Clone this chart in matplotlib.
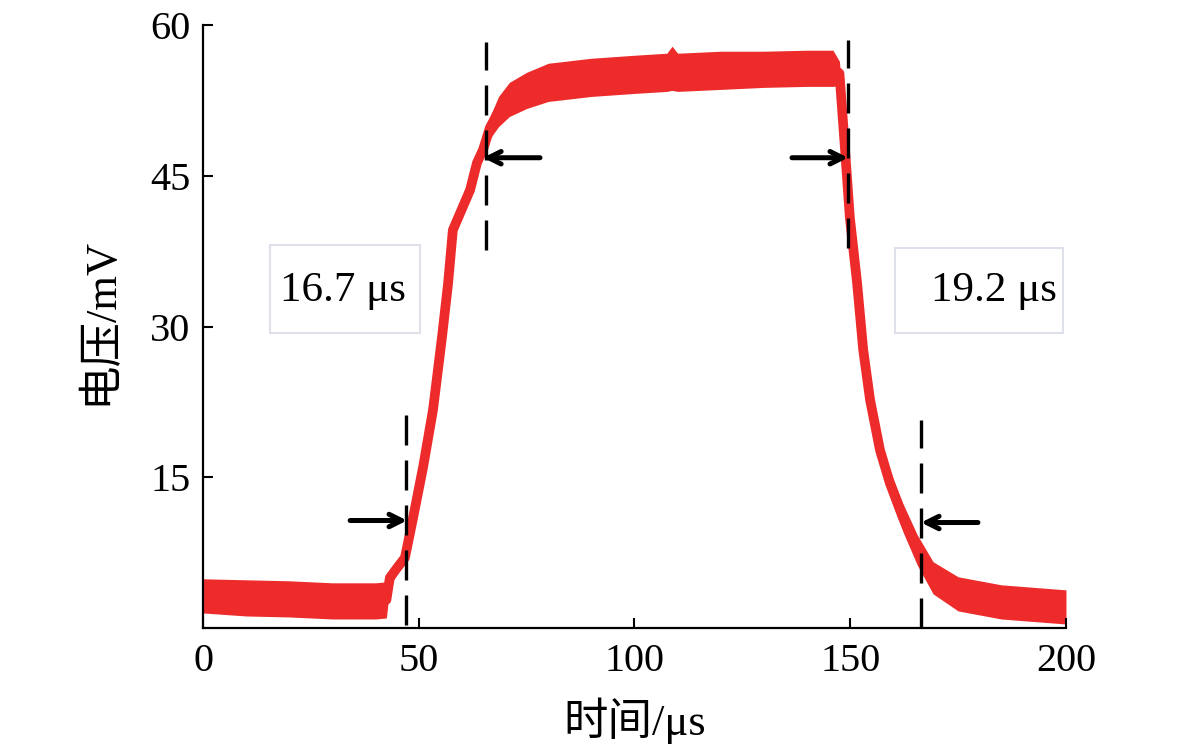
import numpy as np
import matplotlib.pyplot as plt
from matplotlib.patches import Rectangle

plt.rcParams['font.family'] = ['Liberation Serif', 'Noto Sans CJK SC']

# signal centre line and half-width of the noise band
t_us = [0, 10, 20, 30, 40, 42.5, 43.3, 45, 46.8, 48.7, 51, 53.3, 55.4, 56.8, 57.9,
        59.6, 61.9, 63.5, 64.9, 66.5, 68.5, 71, 75, 80, 90, 100, 107.5, 108.7, 110,
        120, 130, 140, 146, 147.5, 148.8, 149.9, 151.6, 153.0, 154.6, 156.9, 159.2,
        162.2, 165.5, 169.2, 175, 185, 200]
v_mid = [3.2, 3.0, 2.9, 2.7, 2.7, 2.8, 5.0, 6.0, 7.0, 11.0, 16.0, 21.7, 29.0, 34.3, 39.6,
         41.3, 43.6, 46.3, 47.6, 49.8, 51.4, 52.6, 53.5, 54.3, 54.8, 55.1, 55.3, 55.7, 55.3,
         55.5, 55.6, 55.7, 55.7, 55.2, 47.6, 40.9, 34.3, 27.7, 22.7, 17.7, 14.4,
         11.0, 7.8, 5.0, 3.4, 2.6, 2.1]
v_half = [1.7, 1.8, 1.8, 1.8, 1.8, 1.8, 0.8, 0.6, 0.5, 0.5, 0.5, 0.5, 0.5, 0.5, 0.5,
          0.5, 0.5, 0.5, 0.6, 1.1, 1.5, 1.7, 1.8, 1.9, 1.9, 1.9, 1.9, 2.2, 1.9,
          1.9, 1.8, 1.8, 1.8, 1.2, 0.6, 0.6, 0.6, 0.7, 0.8, 1.2, 1.3,
          1.4, 1.5, 1.6, 1.7, 1.7, 1.7]

# rise / fall markers
rise_lines = [47.0, 65.6]
fall_lines = [149.5, 166.4]
rise_label = "16.7 μs"
fall_label = "19.2 μs"

red = '#ee2b2b'

fig = plt.figure(figsize=(11.81, 7.49), dpi=100)
ax = fig.add_axes([0.1719, 0.1615, 0.7307, 0.805])

t = np.array(t_us)
mid = np.array(v_mid)
half = np.array(v_half)
ax.fill_between(t, mid - half, mid + half, color=red, lw=0)
ax.plot(t, mid, color=red, lw=7, solid_capstyle='butt')

# dashed guides
dash = dict(color='black', lw=2.4, dashes=(9, 4.5))
ax.plot([rise_lines[0]] * 2, [0.3, 21.5], **dash)
ax.plot([rise_lines[1]] * 2, [37.6, 58.3], **dash)
ax.plot([fall_lines[0]] * 2, [37.8, 58.5], **dash)
ax.plot([fall_lines[1]] * 2, [0.0, 20.7], **dash)

arrow = dict(arrowstyle='->,head_length=0.9,head_width=0.45', color='black', lw=3.6,
             shrinkA=0, shrinkB=0)
ax.annotate('', xy=(47.3, 10.7), xytext=(34.1, 10.7), arrowprops=arrow)
ax.annotate('', xy=(64.9, 46.8), xytext=(78.1, 46.8), arrowprops=arrow)
ax.annotate('', xy=(149.5, 46.8), xytext=(136.5, 46.8), arrowprops=arrow)
ax.annotate('', xy=(166.4, 10.5), xytext=(179.6, 10.5), arrowprops=arrow)

# label boxes
box = dict(fill=False, edgecolor='#dfe1ea', lw=1.5)
ax.add_patch(Rectangle((15.5, 29.4), 34.8, 8.7, **box))
ax.add_patch(Rectangle((160.4, 29.4), 38.9, 8.4, **box))
ax.text(32.5, 33.6, rise_label, fontsize=31, ha='center', va='center')
ax.text(183.4, 33.6, fall_label, fontsize=31, ha='center', va='center')

ax.set_xlim(0, 200)
ax.set_ylim(0, 60)
ax.set_xticks([0, 50, 100, 150, 200])
ax.set_yticks([15, 30, 45, 60])
ax.tick_params(direction='in', length=7, width=1.5, labelsize=29)
ax.tick_params(axis='x', pad=11)
ax.tick_params(axis='y', pad=9)
for s in ['top', 'right']:
    ax.spines[s].set_visible(False)
for s in ['left', 'bottom']:
    ax.spines[s].set_linewidth(1.6)

ax.set_xlabel('时间/μs', fontsize=32)
ax.set_ylabel('电压/mV', fontsize=32)
ax.xaxis.set_label_coords(0.5, -0.115)
ax.yaxis.set_label_coords(-0.096, 0.51)

fig.savefig('out.png', dpi=100)
